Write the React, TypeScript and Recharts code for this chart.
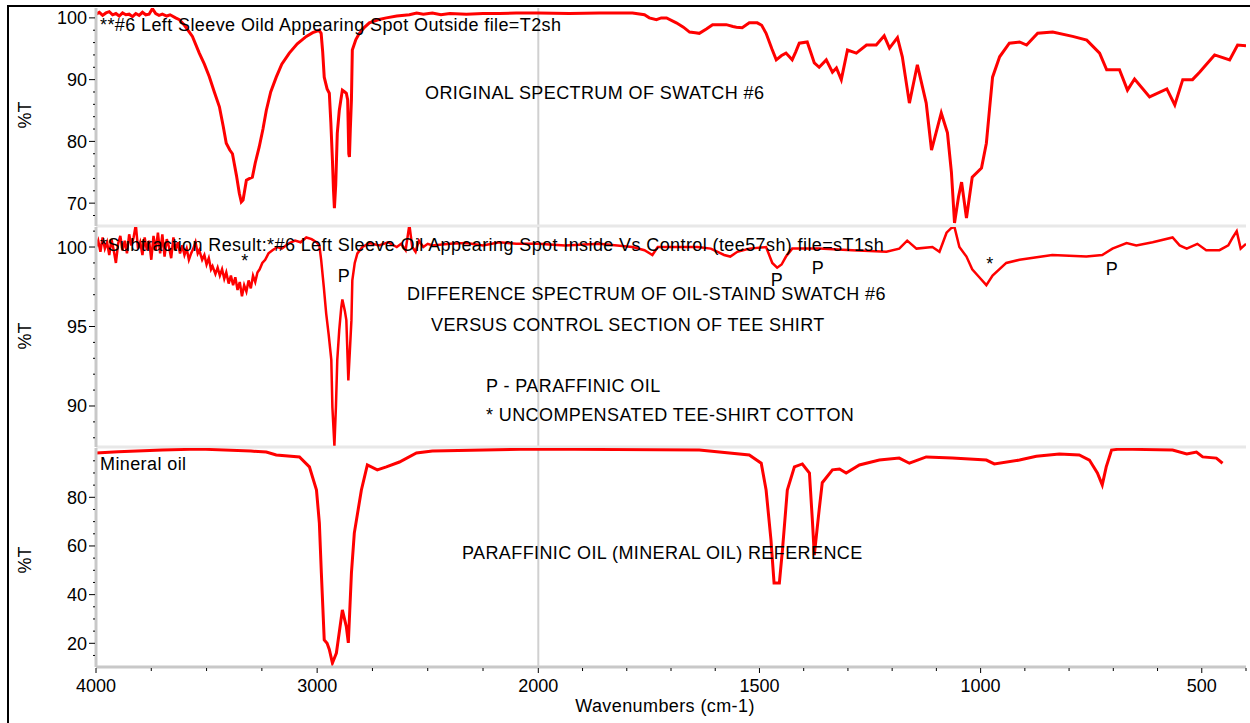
import { LineChart, Line, XAxis, YAxis, ReferenceLine } from 'recharts';

const FONT = '"Liberation Sans", Arial, Helvetica, sans-serif';
const RED = '#ff0000';
const AXIS_GRAY = '#c8c8c8';

// Original spectrum of swatch #6 (wavenumber cm-1, %T)
const originalWn = [
  4000, 3985, 3970, 3955, 3940, 3925, 3910, 3895, 3880, 3865,
  3850, 3835, 3820, 3805, 3790, 3775, 3760, 3745, 3730, 3715,
  3700, 3680, 3665, 3640, 3623, 3600, 3564, 3533, 3510, 3488,
  3465, 3442, 3425, 3411, 3395, 3383, 3365, 3352, 3343, 3335,
  3320, 3305, 3293, 3280, 3262, 3245, 3230, 3210, 3185, 3160,
  3126, 3090, 3049, 3020, 2991, 2982, 2975, 2968, 2955, 2945,
  2938, 2931, 2926, 2922, 2916, 2909, 2900, 2886, 2875, 2868,
  2862, 2857, 2854, 2850, 2845, 2841, 2825, 2809, 2785, 2764,
  2725, 2687, 2640, 2583, 2550, 2520, 2479, 2440, 2400, 2325,
  2250, 2176, 2100, 2000, 1930, 1862, 1787, 1760, 1749, 1733,
  1722, 1710, 1688, 1672, 1658, 1645, 1636, 1620, 1606, 1590,
  1575, 1560, 1552, 1539, 1523, 1505, 1495, 1485, 1472, 1462,
  1450, 1440, 1426, 1418, 1410, 1392, 1382, 1376, 1365, 1349,
  1335, 1326, 1315, 1301, 1281, 1258, 1236, 1218, 1206, 1188,
  1177, 1161, 1143, 1123, 1111, 1089, 1075, 1066, 1059, 1050,
  1043, 1032, 1019, 998, 987, 980, 973, 957, 935, 912,
  896, 871, 837, 792, 760, 731, 715, 686, 668, 652,
  618, 579, 561, 543, 521, 505, 471, 437, 419, 400,
];
const originalT = [
  100.6, 100.9, 100.4, 100.8, 101.0, 100.5, 100.7, 100.3, 100.8, 100.5,
  100.6, 100.2, 100.7, 100.4, 100.9, 100.5, 100.6, 101.5, 100.7, 100.4,
  100.6, 100.3, 100.5, 100.0, 99.7, 98.8, 97.0, 94.3, 92.5, 90.5,
  88.0, 85.6, 82.5, 79.7, 78.6, 78.0, 74.5, 71.6, 70.2, 70.5,
  73.7, 74.0, 74.2, 76.5, 79.1, 82.0, 85.0, 88.0, 90.4, 92.5,
  94.3, 95.8, 97.0, 97.6, 98.0, 97.5, 94.5, 90.4, 88.5, 87.8,
  83.0, 77.0, 72.0, 69.2, 73.0, 81.3, 85.0, 88.3, 88.0, 87.8,
  86.7, 78.0, 77.5, 82.0, 86.7, 94.8, 96.5, 97.5, 98.5, 99.2,
  99.7, 100.0, 100.3, 100.5, 100.8, 100.6, 100.8, 100.5, 100.7, 100.6,
  100.7, 100.7, 100.8, 100.8, 100.7, 100.8, 100.8, 100.5, 100.0, 99.7,
  100.0, 100.0, 99.2, 98.5, 97.7, 97.6, 97.5, 98.2, 98.9, 98.9,
  98.9, 98.6, 98.5, 98.4, 99.2, 99.2, 98.8, 97.5, 95.0, 93.2,
  93.9, 94.3, 93.2, 94.5, 95.9, 96.1, 94.0, 92.7, 92.0, 93.2,
  91.2, 91.9, 90.0, 94.8, 94.3, 95.6, 95.6, 97.1, 95.1, 96.8,
  93.7, 86.2, 92.4, 86.2, 78.6, 84.6, 81.4, 75.0, 66.8, 71.0,
  73.4, 67.6, 74.2, 75.7, 79.7, 85.1, 90.4, 93.7, 95.9, 96.1,
  95.6, 97.5, 97.7, 97.0, 96.4, 94.3, 91.6, 91.6, 88.3, 90.1,
  87.2, 88.5, 85.9, 90.0, 90.0, 91.2, 94.0, 93.2, 95.6, 95.5,
];

// Difference spectrum (oil-stained swatch minus control)
const diffWn = [
  4000, 3990, 3980, 3970, 3960, 3950, 3940, 3930, 3920, 3910,
  3900, 3890, 3880, 3870, 3860, 3850, 3840, 3830, 3820, 3810,
  3800, 3790, 3780, 3770, 3760, 3750, 3740, 3730, 3720, 3710,
  3700, 3690, 3680, 3670, 3660, 3650, 3640, 3630, 3620, 3610,
  3600, 3590, 3580, 3570, 3560, 3550, 3540, 3533, 3520, 3510,
  3500, 3490, 3480, 3473, 3460, 3450, 3440, 3430, 3420, 3411,
  3400, 3390, 3380, 3370, 3360, 3350, 3340, 3330, 3320, 3310,
  3300, 3290, 3280, 3270, 3260, 3248, 3235, 3220, 3202, 3180,
  3160, 3126, 3100, 3075, 3049, 3025, 3003, 2990, 2982, 2970,
  2959, 2948, 2936, 2931, 2922, 2915, 2909, 2900, 2891, 2886,
  2875, 2868, 2859, 2852, 2845, 2841, 2830, 2818, 2795, 2764,
  2720, 2680, 2640, 2620, 2600, 2583, 2570, 2555, 2540, 2520,
  2500, 2479, 2400, 2325, 2250, 2176, 2100, 2000, 1940, 1862,
  1787, 1760, 1742, 1730, 1710, 1680, 1640, 1610, 1580, 1566,
  1550, 1523, 1485, 1471, 1460, 1450, 1440, 1426, 1400, 1365,
  1290, 1213, 1184, 1166, 1145, 1109, 1093, 1077, 1066, 1059,
  1048, 1032, 1019, 1003, 987, 973, 942, 912, 838, 761,
  725, 702, 670, 648, 611, 566, 550, 534, 510, 490,
  460, 440, 430, 421, 412, 400,
];
const diffT = [
  100.0, 100.4, 99.7, 100.6, 99.9, 100.3, 99.5, 100.5, 99.8, 99.0,
  100.2, 100.7, 99.8, 100.4, 99.6, 100.8, 100.1, 100.6, 101.4, 99.9,
  100.3, 99.5, 100.6, 99.8, 100.4, 99.2, 100.7, 99.8, 100.9, 99.6,
  100.8, 99.4, 100.5, 100.0, 99.3, 100.6, 99.8, 100.3, 99.6, 100.1,
  99.5, 99.9, 99.2, 99.6, 99.9, 100.3, 99.6, 99.8, 99.2, 99.5,
  98.9, 99.3, 98.6, 98.8, 98.3, 98.7, 98.2, 98.6, 98.0, 98.4,
  97.7, 98.2, 97.6, 98.1, 97.3, 97.8, 96.9, 97.6, 97.2, 97.9,
  97.4, 98.2, 97.8, 98.4, 98.6, 99.0, 99.2, 99.6, 99.8, 100.0,
  99.9, 100.25, 100.4, 100.3, 100.6, 100.5, 100.3, 100.1, 99.2, 97.5,
  95.8, 94.5, 92.9, 89.9, 87.5, 90.0, 92.9, 94.8, 96.2, 96.7,
  96.0, 95.4, 91.6, 93.5, 95.4, 97.9, 99.0, 99.6, 100.0, 100.25,
  100.1, 100.3, 100.0, 100.2, 99.8, 101.4, 100.0, 99.7, 100.4, 100.0,
  100.2, 100.1, 100.2, 100.25, 100.1, 100.3, 100.2, 100.2, 100.1, 100.2,
  100.0, 99.8, 99.5, 100.0, 100.0, 100.0, 100.0, 99.9, 99.5, 99.4,
  99.7, 99.9, 100.0, 99.0, 98.7, 98.9, 99.4, 99.9, 99.9, 99.9,
  99.8, 99.7, 99.9, 100.4, 99.9, 100.0, 99.7, 100.9, 101.2, 101.25,
  100.0, 99.4, 98.6, 98.1, 97.6, 98.2, 99.0, 99.2, 99.5, 99.4,
  99.5, 99.9, 100.25, 100.1, 100.3, 100.6, 100.1, 99.9, 100.2, 99.8,
  99.8, 100.1, 100.6, 101.0, 99.9, 100.2,
];

// Mineral oil reference
const mineralWn = [
  4000, 3900, 3700, 3533, 3300, 3230, 3185, 3080, 3035, 3003,
  2990, 2981, 2968, 2955, 2945, 2931, 2913, 2886, 2868, 2859,
  2845, 2832, 2800, 2773, 2728, 2687, 2628, 2551, 2479, 2026,
  1636, 1523, 1496, 1485, 1474, 1467, 1455, 1448, 1437, 1421,
  1403, 1387, 1380, 1376, 1365, 1358, 1335, 1319, 1304, 1274,
  1229, 1184, 1161, 1123, 1064, 987, 969, 912, 874, 822,
  777, 754, 736, 725, 716, 704, 686, 566, 534, 512,
  498, 467, 453,
];
const mineralT = [
  98.2, 98.7, 99.4, 99.8, 99.0, 98.6, 97.4, 96.6, 92.5, 83.0,
  69.4, 48.9, 21.4, 20.0, 17.5, 11.9, 16.0, 33.7, 26.8, 20.2,
  48.9, 65.3, 83.0, 93.3, 91.3, 92.5, 94.5, 98.2, 99.0, 99.8,
  99.4, 97.4, 94.0, 83.0, 62.5, 44.8, 44.8, 58.4, 83.0, 92.5,
  93.7, 90.0, 69.4, 56.2, 74.9, 86.0, 91.3, 91.6, 90.0, 93.3,
  95.3, 96.1, 94.0, 96.6, 96.1, 95.3, 93.7, 95.3, 96.9, 97.8,
  97.4, 95.3, 90.0, 85.1, 92.5, 99.4, 99.8, 99.4, 97.8, 98.6,
  96.6, 96.1, 94.0,
];

// axis ticks
const xTicksWn = [
  4000, 3750, 3500, 3250, 3000, 2750, 2500, 2250, 2000, 1900, 1800, 1700, 1600,
  1500, 1400, 1300, 1200, 1100, 1000, 900, 800, 700, 600, 500, 400,
];
const xMajorWn = [4000, 3000, 2000, 1500, 1000, 500];
const originalTicks = [68, 70, 72, 74, 76, 78, 80, 82, 84, 86, 88, 90, 92, 94, 96, 98, 100];
const originalMajor = [70, 80, 90, 100];
const diffTicks = [88, 89, 90, 91, 92, 93, 94, 95, 96, 97, 98, 99, 100, 101];
const diffMajor = [90, 95, 100];
const mineralTicks = [15, 20, 25, 30, 35, 40, 45, 50, 55, 60, 65, 70, 75, 80, 85, 90, 95];
const mineralMajor = [20, 40, 60, 80];

// 4000-2000 is drawn at half the scale of 2000-400 (split IR axis)
const toAxis = (wn: number) => (wn >= 2000 ? 4000 - wn : 2000 + (2000 - wn) * 2);
const fromAxis = (u: number) => Math.round(u <= 2000 ? 4000 - u : 2000 - (u - 2000) / 2);

const zip = (wn: number[], t: number[]) => wn.map((w, i) => ({ x: toAxis(w), t: t[i] }));

const W = 1250;
const PLOT_LEFT = 96;
const X_AXIS_Y = 227; // bottom panel, local coords

function makeYTick(majors: number[]) {
  return (p: any) => {
    const v = p.payload.value;
    const major = majors.includes(v);
    return (
      <g>
        <line x1={PLOT_LEFT - (major ? 7 : 3)} x2={PLOT_LEFT - 1} y1={p.y} y2={p.y} stroke="#000" />
        {major && (
          <text x={PLOT_LEFT - 9} y={p.y} dy="0.36em" textAnchor="end" fontSize={18} fontFamily={FONT} fill="#000">
            {v}
          </text>
        )}
      </g>
    );
  };
}

function XTick(p: any) {
  const wn = fromAxis(p.payload.value);
  const major = xMajorWn.includes(wn);
  return (
    <g>
      <line x1={p.x} x2={p.x} y1={X_AXIS_Y + 1} y2={X_AXIS_Y + (major ? 6 : 4)} stroke="#000" />
      {major && (
        <text x={p.x} y={X_AXIS_Y + 25} textAnchor="middle" fontSize={18} fontFamily={FONT} fill="#000">
          {wn}
        </text>
      )}
    </g>
  );
}

function Note({ x, y, children, center }: { x: number; y: number; children: any; center?: boolean }) {
  return (
    <div
      style={{
        position: 'absolute',
        left: x,
        top: y - 7,
        fontSize: 18,
        lineHeight: '14px',
        letterSpacing: '0.4px',
        whiteSpace: 'nowrap',
        color: '#000',
        transform: center ? 'translateX(-50%)' : undefined,
      }}
    >
      {children}
    </div>
  );
}

function YTitle({ y }: { y: number }) {
  return (
    <div
      style={{
        position: 'absolute',
        left: 25,
        top: y,
        fontSize: 18,
        lineHeight: '20px',
        transform: 'translate(-50%, -50%) rotate(-90deg)',
      }}
    >
      %T
    </div>
  );
}

interface PanelProps {
  top: number;
  height: number;
  margin: { top: number; bottom: number };
  data: { x: number; t: number }[];
  domain: [number, number];
  ticks: number[];
  majors: number[];
  strokeWidth: number;
  showX?: boolean;
}

function Panel({ top, height, margin, data, domain, ticks, majors, strokeWidth, showX }: PanelProps) {
  return (
    <div style={{ position: 'absolute', left: 0, top }}>
      <LineChart width={W} height={height} data={data} margin={{ top: margin.top, bottom: margin.bottom, left: 0, right: 4 }}>
        {showX ? (
          <XAxis
            type="number"
            dataKey="x"
            domain={[0, 5200]}
            allowDataOverflow
            ticks={xTicksWn.map(toAxis)}
            interval={0}
            tick={XTick}
            tickLine={false}
            axisLine={{ stroke: AXIS_GRAY, strokeWidth: 3 }}
            height={56}
          />
        ) : (
          <XAxis type="number" dataKey="x" domain={[0, 5200]} allowDataOverflow hide />
        )}
        <YAxis
          type="number"
          domain={domain}
          allowDataOverflow
          ticks={ticks}
          interval={0}
          tick={makeYTick(majors)}
          tickLine={false}
          axisLine={{ stroke: AXIS_GRAY, strokeWidth: 3 }}
          width={PLOT_LEFT}
        />
        <ReferenceLine x={2000} stroke="#d0d0d0" strokeWidth={2} />
        {!showX && <ReferenceLine y={domain[0]} stroke="#e8e8e8" strokeWidth={3} />}
        <Line
          type="linear"
          dataKey="t"
          stroke={RED}
          strokeWidth={strokeWidth}
          dot={false}
          isAnimationActive={false}
        />
      </LineChart>
    </div>
  );
}

export default function App() {
  return (
    <div
      style={{
        position: 'absolute',
        left: 0,
        top: 0,
        width: W,
        height: 723,
        overflow: 'hidden',
        background: '#fff',
        fontFamily: FONT,
      }}
    >
      <div
        style={{ position: 'absolute', left: 7, top: 5, width: 1400, height: 900, border: '2px solid #000' }}
      />
      <Panel
        top={0}
        height={230}
        margin={{ top: 8, bottom: 4 }}
        data={zip(originalWn, originalT)}
        domain={[66.3, 101.6]}
        ticks={originalTicks}
        majors={originalMajor}
        strokeWidth={3}
      />
      <Panel
        top={220}
        height={230}
        margin={{ top: 7, bottom: 3 }}
        data={zip(diffWn, diffT)}
        domain={[87.42, 101.26]}
        ticks={diffTicks}
        majors={diffMajor}
        strokeWidth={2.5}
      />
      <Panel
        top={440}
        height={283}
        margin={{ top: 8, bottom: 0 }}
        data={zip(mineralWn, mineralT)}
        domain={[10.26, 100.26]}
        ticks={mineralTicks}
        majors={mineralMajor}
        strokeWidth={3}
        showX
      />

      <YTitle y={115} />
      <YTitle y={336} />
      <YTitle y={560} />

      <Note x={100} y={25}>**#6 Left Sleeve Oild Appearing Spot Outside file=T2sh</Note>
      <Note x={425} y={93}>ORIGINAL SPECTRUM OF SWATCH #6</Note>

      <Note x={100} y={245}>
        *Subtraction Result:*#6 Left Sleeve Oil Appearing Spot Inside Vs Control (tee57sh) file=sT1sh
      </Note>
      <Note x={245} y={261} center>*</Note>
      <Note x={990} y={264} center>*</Note>
      <Note x={344} y={276} center>P</Note>
      <Note x={777} y={280} center>P</Note>
      <Note x={818} y={268} center>P</Note>
      <Note x={1112} y={269} center>P</Note>
      <Note x={407} y={294}>DIFFERENCE SPECTRUM OF OIL-STAIND SWATCH #6</Note>
      <Note x={431} y={325}>VERSUS CONTROL SECTION OF TEE SHIRT</Note>
      <Note x={486} y={386}>P - PARAFFINIC OIL</Note>
      <Note x={486} y={415}>* UNCOMPENSATED TEE-SHIRT COTTON</Note>

      <Note x={100} y={464}>Mineral oil</Note>
      <Note x={462} y={553}>PARAFFINIC OIL (MINERAL OIL) REFERENCE</Note>
      <Note x={665} y={706} center>Wavenumbers (cm-1)</Note>
    </div>
  );
}
